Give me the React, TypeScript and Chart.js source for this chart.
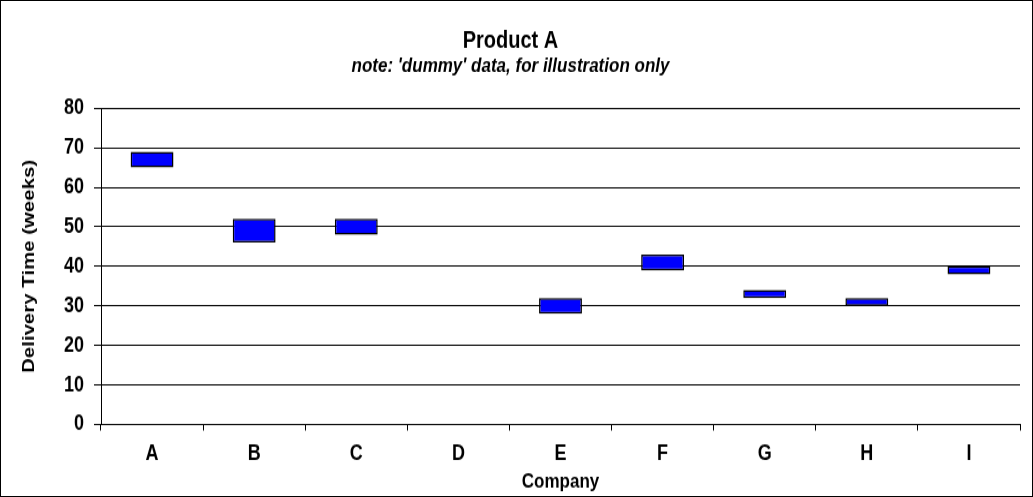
import React, { useEffect, useRef } from "react";
import { Chart, registerables } from "chart.js";

Chart.register(...registerables);

const companies = ["A", "B", "C", "D", "E", "F", "G", "H", "I"];
const lowWeeks = [65, 46, 48, null, 28, 39, 32, 30, 38];
const highWeeks = [69, 52, 52, null, 32, 43, 34, 32, 40];
const yTicks = [0, 10, 20, 30, 40, 50, 60, 70, 80];

const FONT = "'Liberation Sans', Arial, sans-serif";
// display size of the chart box
const CW = 1031;
const CH = 495;
// drawing buffer height (the picture is stretched vertically, like the original)
const BH = 412;

export default function App() {
  const ref = useRef<HTMLCanvasElement | null>(null);
  useEffect(() => {
    document.body.style.margin = "0";
    document.body.style.overflow = "hidden";
    const ctx = ref.current!;
    const data = companies.map((_, i) =>
      lowWeeks[i] === null ? null : [lowWeeks[i], highWeeks[i]]
    );
    const chart = new Chart(ctx, {
      type: "bar",
      data: {
        labels: companies,
        datasets: [
          {
            data: data as any,
            backgroundColor: "#0000FF",
            borderColor: "#000000",
            borderWidth: 1.5,
            borderSkipped: false,
            barPercentage: 0.42,
            categoryPercentage: 1,
          },
        ],
      },
      options: {
        animation: false,
        responsive: false,
        maintainAspectRatio: false,
        devicePixelRatio: 1,
        layout: { padding: { left: 0, right: 12, top: 0, bottom: 2.7 } },
        plugins: {
          legend: { display: false },
          tooltip: { enabled: false },
          title: {
            display: true,
            text: "Product A",
            color: "#000",
            font: { family: FONT, size: 20, weight: "bold", lineHeight: 1.0 },
            padding: { top: 23.3, bottom: 0 },
          },
          subtitle: {
            display: true,
            text: "note: 'dummy' data, for illustration only",
            color: "#000",
            font: { family: FONT, size: 17, weight: "bold", style: "italic", lineHeight: 1.0 },
            padding: { top: 2.4, bottom: 26.5 },
          },
        },
        scales: {
          x: {
            afterFit: (axis: any) => {
              axis.height = 56.8;
            },
            grid: {
              display: true,
              drawOnChartArea: false,
              drawTicks: true,
              tickLength: 5,
              color: "#000",
              offset: true,
            },
            border: { display: true, color: "#000", width: 1 },
            ticks: {
              color: "#000",
              font: { family: FONT, size: 18, weight: "bold" },
              padding: 8.4,
            },
            title: {
              display: true,
              text: "Company",
              color: "#000",
              font: { family: FONT, size: 17, weight: "bold", lineHeight: 1.0 },
              padding: { top: 0, bottom: 0 },
            },
          },
          y: {
            min: 0,
            max: 80,
            afterBuildTicks: (axis: any) => {
              axis.ticks = yTicks.map((v) => ({ value: v }));
            },
            afterFit: (axis: any) => {
              axis.width = 100;
            },
            grid: {
              color: "#000",
              lineWidth: 1,
              tickLength: 7,
            },
            border: { display: true, color: "#000", width: 1 },
            ticks: {
              color: "#000",
              font: { family: FONT, size: 18, weight: "bold" },
              padding: 10,
            },
            title: {
              display: true,
              text: "Delivery Time (weeks)",
              color: "#000",
              font: { family: FONT, size: 17, weight: "bold" },
              padding: { top: 18.5, bottom: 0 },
            },
          },
        },
      },
    });
    return () => chart.destroy();
  }, []);
  return (
    <div
      style={{
        position: "fixed",
        left: 0,
        top: 0,
        width: CW,
        height: CH,
        border: "1px solid #000",
        background: "#fff",
        overflow: "hidden",
      }}
    >
      <canvas
        ref={ref}
        width={CW}
        height={BH}
        style={{ display: "block", width: CW, height: CH }}
      />
    </div>
  );
}
